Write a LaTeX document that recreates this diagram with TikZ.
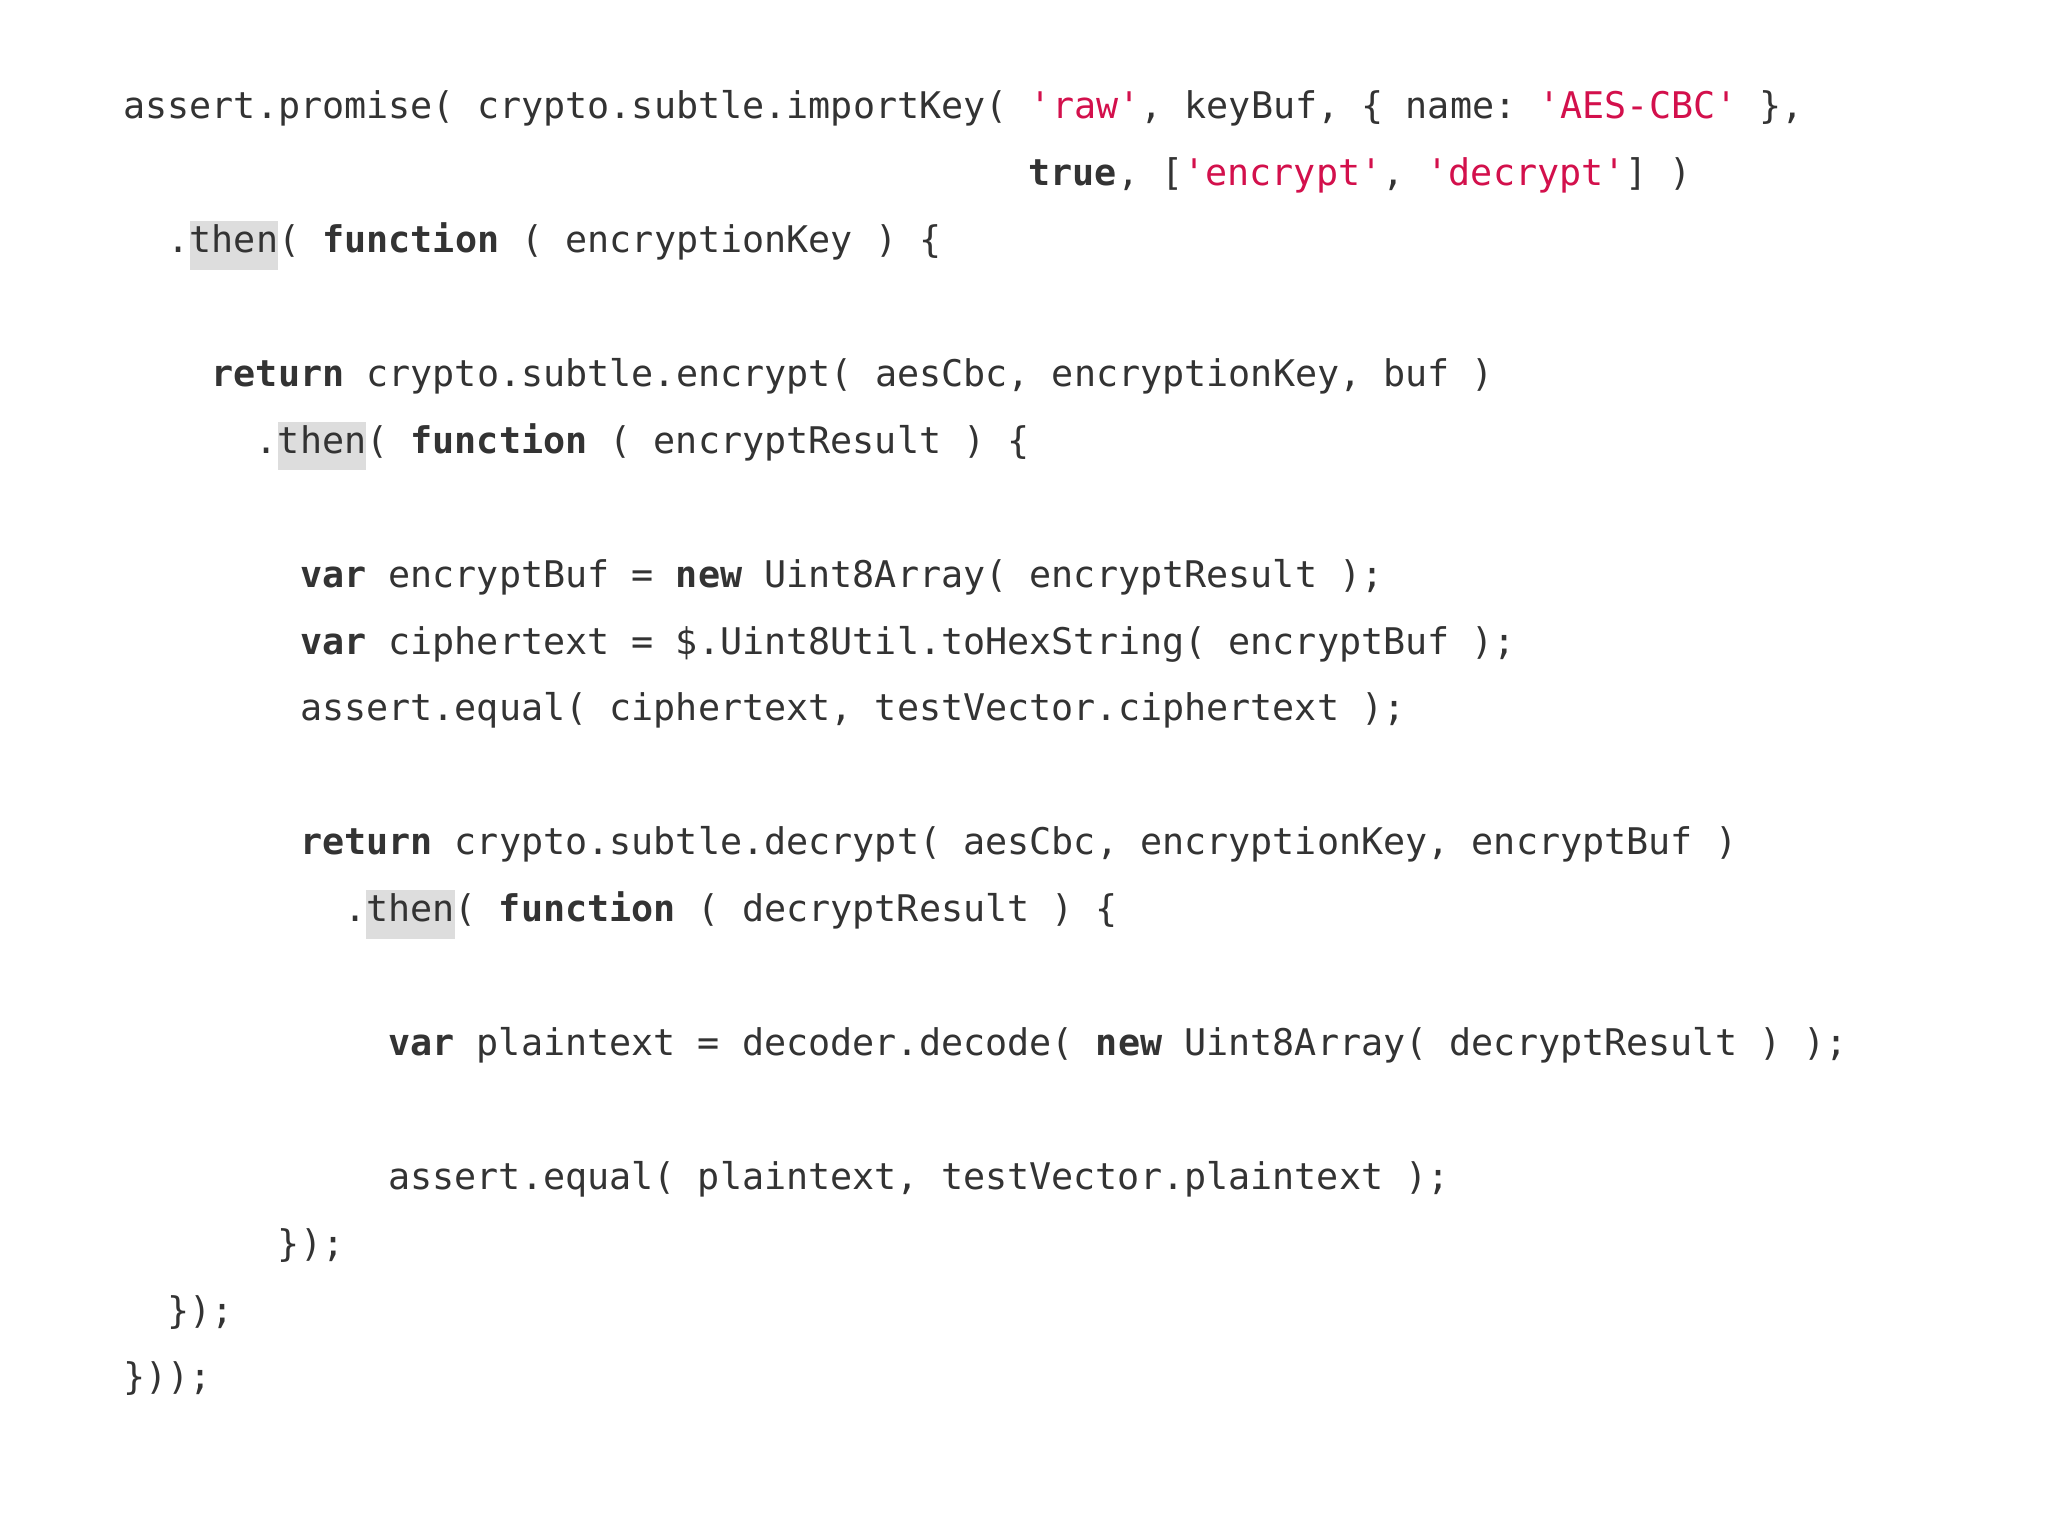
\documentclass[tikz,border=0pt]{standalone}
\usepackage{fontspec}
\setmonofont{DejaVu Sans Mono}
\definecolor{codetext}{HTML}{333333}
\definecolor{codestr}{HTML}{D3104C}
\definecolor{hlbg}{HTML}{DDDDDD}
\newcommand{\strq}[1]{\textcolor{codestr}{#1}}
\newcommand{\hlt}[1]{{\setlength{\fboxsep}{0pt}\colorbox{hlbg}{\vrule width 0pt height 0.317cm depth 0.17cm #1}}}
\tikzset{codeline/.style={anchor=base west, inner sep=0pt, text=codetext, font=\ttfamily\fontsize{10.45pt}{12pt}\selectfont}}
\newcommand{\cl}[4]{\node[codeline] (#1) at ({1.227+#3*0.2208},{-(1.188+0.669*#2)}) {#4};}
\begin{document}
\begin{tikzpicture}
\useasboundingbox[fill=white] (0,0) rectangle (20.48,-15.36);
\cl{l1}{0}{0}{assert.promise( crypto.subtle.importKey( \strq{'raw'}, keyBuf, \{ name: \strq{'AES-CBC'} \},}
\cl{l2}{1}{41}{\textbf{true}, [\strq{'encrypt'}, \strq{'decrypt'}] )}
\cl{l3}{2}{2}{.\hlt{then}( \textbf{function} ( encryptionKey ) \{}
\cl{l4}{4}{4}{\textbf{return} crypto.subtle.encrypt( aesCbc, encryptionKey, buf )}
\cl{l5}{5}{6}{.\hlt{then}( \textbf{function} ( encryptResult ) \{}
\cl{l6}{7}{8}{\textbf{var} encryptBuf = \textbf{new} Uint8Array( encryptResult );}
\cl{l7}{8}{8}{\textbf{var} ciphertext = \$.Uint8Util.toHexString( encryptBuf );}
\cl{l8}{9}{8}{assert.equal( ciphertext, testVector.ciphertext );}
\cl{l9}{11}{8}{\textbf{return} crypto.subtle.decrypt( aesCbc, encryptionKey, encryptBuf )}
\cl{l10}{12}{10}{.\hlt{then}( \textbf{function} ( decryptResult ) \{}
\cl{l11}{14}{12}{\textbf{var} plaintext = decoder.decode( \textbf{new} Uint8Array( decryptResult ) );}
\cl{l12}{16}{12}{assert.equal( plaintext, testVector.plaintext );}
\cl{l13}{17}{7}{\});}
\cl{l14}{18}{2}{\});}
\cl{l15}{19}{0}{\}));}
\end{tikzpicture}
\end{document}
